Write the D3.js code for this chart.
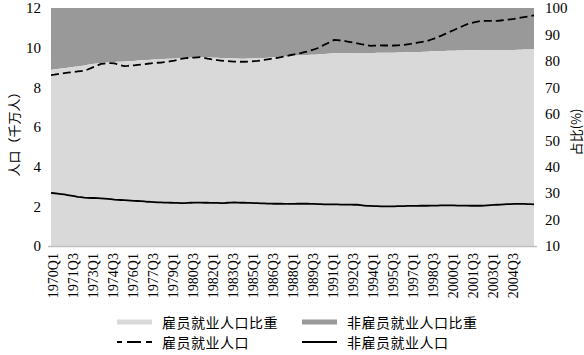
<!DOCTYPE html>
<html><head><meta charset="utf-8">
<script src="https://cdn.jsdelivr.net/npm/d3@7"></script>
<style>body{margin:0;background:#fff}svg{display:block}</style>
</head><body>
<svg id="c" width="584" height="355"></svg>
<script>
// Quarterly categories 1970Q1 .. 2006Q2
const startYear = 1970, quarterCount = 146;
const categories = [];
for (let i = 0; i < quarterCount; i++) categories.push((startYear + Math.floor(i / 4)) + "Q" + (i % 4 + 1));

const tickLabels = ["1970Q1","1971Q3","1973Q1","1974Q3","1976Q1","1977Q3","1979Q1","1980Q3","1982Q1","1983Q3","1985Q1","1986Q3","1988Q1","1989Q3","1991Q1","1992Q3","1994Q1","1995Q3","1997Q1","1998Q3","2000Q1","2001Q3","2003Q1","2004Q3"];
const leftTicks = [0,2,4,6,8,10,12];
const rightTicks = [10,20,30,40,50,60,70,80,90,100];

// 雇员就业人口 (千万人)
const employees = [8.62,8.64,8.67,8.69,8.72,8.74,8.76,8.78,8.80,8.82,8.84,8.90,8.97,9.04,9.11,9.18,9.20,9.22,9.22,9.21,9.16,9.11,9.07,9.08,9.10,9.11,9.13,9.15,9.17,9.19,9.21,9.22,9.24,9.25,9.27,9.28,9.32,9.35,9.39,9.43,9.46,9.48,9.49,9.50,9.51,9.52,9.49,9.45,9.42,9.40,9.37,9.35,9.33,9.32,9.31,9.30,9.29,9.29,9.29,9.30,9.31,9.32,9.33,9.36,9.38,9.41,9.44,9.47,9.49,9.52,9.56,9.59,9.63,9.66,9.70,9.73,9.77,9.80,9.86,9.91,9.97,10.05,10.14,10.22,10.31,10.39,10.38,10.36,10.34,10.31,10.28,10.25,10.22,10.18,10.15,10.12,10.09,10.10,10.11,10.12,10.11,10.11,10.10,10.11,10.12,10.13,10.14,10.17,10.19,10.22,10.25,10.28,10.31,10.34,10.40,10.46,10.53,10.59,10.67,10.74,10.82,10.89,10.97,11.04,11.12,11.19,11.23,11.27,11.31,11.35,11.35,11.35,11.35,11.35,11.35,11.37,11.39,11.41,11.43,11.45,11.48,11.51,11.54,11.57,11.60,11.63];

// 非雇员就业人口 (千万人)
const nonEmployees = [2.68,2.66,2.64,2.62,2.60,2.57,2.54,2.51,2.48,2.46,2.44,2.43,2.42,2.42,2.41,2.40,2.39,2.38,2.36,2.34,2.33,2.32,2.31,2.30,2.29,2.28,2.27,2.26,2.25,2.23,2.22,2.21,2.20,2.20,2.19,2.19,2.18,2.17,2.17,2.16,2.16,2.17,2.18,2.19,2.19,2.19,2.18,2.18,2.17,2.17,2.17,2.16,2.16,2.18,2.19,2.20,2.19,2.18,2.18,2.17,2.17,2.16,2.16,2.15,2.15,2.14,2.14,2.13,2.13,2.13,2.12,2.12,2.12,2.12,2.13,2.13,2.13,2.13,2.12,2.12,2.11,2.11,2.10,2.10,2.10,2.10,2.10,2.09,2.09,2.09,2.09,2.08,2.08,2.06,2.04,2.02,2.02,2.01,2.01,2.00,2.00,2.00,2.00,2.00,2.01,2.01,2.01,2.02,2.02,2.02,2.02,2.03,2.03,2.03,2.04,2.04,2.04,2.05,2.05,2.05,2.05,2.05,2.04,2.04,2.04,2.04,2.03,2.03,2.03,2.03,2.04,2.05,2.06,2.07,2.08,2.09,2.10,2.11,2.11,2.12,2.12,2.12,2.12,2.11,2.11,2.10];

// 雇员就业人口比重 (%)
const employeeShare = [76.6,76.8,76.9,77.1,77.2,77.4,77.6,77.8,77.9,78.1,78.3,78.5,78.7,78.9,79.0,79.2,79.3,79.4,79.5,79.6,79.7,79.7,79.8,79.9,79.9,80.0,80.1,80.2,80.2,80.3,80.4,80.5,80.5,80.6,80.7,80.8,80.8,80.9,81.0,81.0,81.1,81.2,81.2,81.3,81.3,81.4,81.4,81.3,81.3,81.2,81.2,81.1,81.1,81.0,81.0,80.9,80.9,80.8,80.8,80.9,80.9,81.0,81.0,81.1,81.1,81.2,81.3,81.4,81.5,81.6,81.6,81.7,81.8,81.9,82.0,82.0,82.1,82.2,82.3,82.3,82.4,82.5,82.6,82.7,82.8,82.9,82.9,82.9,82.9,82.9,83.0,83.0,83.0,83.0,83.0,83.0,83.0,83.0,83.1,83.1,83.1,83.1,83.1,83.1,83.2,83.2,83.3,83.3,83.3,83.4,83.4,83.4,83.5,83.5,83.6,83.6,83.6,83.7,83.7,83.8,83.8,83.8,83.9,83.9,83.9,84.0,84.0,84.0,84.1,84.1,84.1,84.1,84.1,84.1,84.1,84.1,84.1,84.1,84.1,84.1,84.2,84.2,84.3,84.3,84.4,84.4];

const serif = "Liberation Serif";
const cjk = "Noto Sans CJK SC";
const lightFill = "#d9d9d9", darkFill = "#999999";

const svg = d3.select("#c");
const L = 50, R = 534, T = 8, B = 246;

const x = d3.scalePoint().domain(categories).range([51, R]);
const yLeft = d3.scaleLinear().domain([0, 12]).range([B, T]);
const yRight = d3.scaleLinear().domain([10, 100]).range([B, T]);

const data = categories.map((c, i) => ({c, e: employees[i], n: nonEmployees[i], s: employeeShare[i]}));

// areas
const darkArea = d3.area().x(d => x(d.c)).y0(d => yRight(d.s)).y1(yRight(100));
const lightArea = d3.area().x(d => x(d.c)).y0(yRight(10)).y1(d => yRight(d.s));
svg.append("path").datum(data).attr("d", darkArea).attr("fill", darkFill);
svg.append("path").datum(data).attr("d", lightArea).attr("fill", lightFill);

// x axis
const xAxis = svg.append("g").attr("transform", `translate(0,${B})`)
  .call(d3.axisBottom(x).tickValues(tickLabels).tickSize(0));
xAxis.select(".domain").remove();
xAxis.attr("font-family", serif).attr("font-size", 14);
svg.append("line").attr("x1", L - 2).attr("x2", R + 3).attr("y1", B + 0.5).attr("y2", B + 0.5)
  .attr("stroke", "#bfbfbf").attr("stroke-width", 1.5);
xAxis.selectAll("text")
  .attr("transform", "rotate(-90)")
  .attr("x", -7).attr("y", 2).attr("dy", "0.35em")
  .attr("text-anchor", "end")
  .attr("font-family", serif).attr("font-size", 14).attr("fill", "#000");

// lines
const lineE = d3.line().x(d => x(d.c)).y(d => yLeft(d.e));
const lineN = d3.line().x(d => x(d.c)).y(d => yLeft(d.n));
svg.append("path").datum(data).attr("d", lineE).attr("fill", "none")
  .attr("stroke", "#000").attr("stroke-width", 1.8).attr("stroke-dasharray", "8,4");
svg.append("path").datum(data).attr("d", lineN).attr("fill", "none")
  .attr("stroke", "#000").attr("stroke-width", 1.8);

// left axis
const la = svg.append("g").attr("transform", `translate(${L},0)`)
  .call(d3.axisLeft(yLeft).tickValues(leftTicks).tickSize(0).tickPadding(9));
la.select(".domain").remove();
la.attr("font-family", serif).attr("font-size", 15);
la.selectAll("text").attr("font-family", serif).attr("font-size", 15).attr("fill", "#000");

// right axis
const ra = svg.append("g").attr("transform", `translate(${R},0)`)
  .call(d3.axisRight(yRight).tickValues(rightTicks).tickSize(0).tickPadding(11));
ra.select(".domain").remove();
ra.attr("font-family", serif).attr("font-size", 15);
ra.selectAll("text").attr("font-family", serif).attr("font-size", 15).attr("fill", "#000");

// axis titles
svg.append("text").attr("transform", "translate(13,131) rotate(-90)")
  .attr("text-anchor", "middle").attr("dominant-baseline", "central")
  .attr("font-family", cjk).attr("font-size", 13).text("人口（千万人）");
svg.append("text").attr("transform", "translate(575,132) rotate(-90)")
  .attr("text-anchor", "middle").attr("dominant-baseline", "central")
  .attr("font-family", cjk).attr("font-size", 13).text("占比(%)");

// legend
const leg = svg.append("g");
const items = [
  {t: "雇员就业人口比重", x: 117, y: 322, kind: "rect", fill: lightFill},
  {t: "非雇员就业人口比重", x: 302, y: 322, kind: "rect", fill: darkFill},
  {t: "雇员就业人口", x: 117, y: 342, kind: "dash"},
  {t: "非雇员就业人口", x: 302, y: 342, kind: "solid"}
];
items.forEach(it => {
  if (it.kind === "rect") {
    leg.append("rect").attr("x", it.x).attr("y", it.y - 2.5).attr("width", 35).attr("height", 5).attr("fill", it.fill);
  } else {
    leg.append("line").attr("x1", it.x).attr("x2", it.x + 35).attr("y1", it.y).attr("y2", it.y)
      .attr("stroke", "#000").attr("stroke-width", 1.8)
      .attr("stroke-dasharray", it.kind === "dash" ? "5,5,14,5,6" : null);
  }
  leg.append("text").attr("x", it.x + 45).attr("y", it.y).attr("dominant-baseline", "central")
    .attr("font-family", cjk).attr("font-size", 14).attr("letter-spacing", "0.5").text(it.t);
});
</script>
</body></html>
